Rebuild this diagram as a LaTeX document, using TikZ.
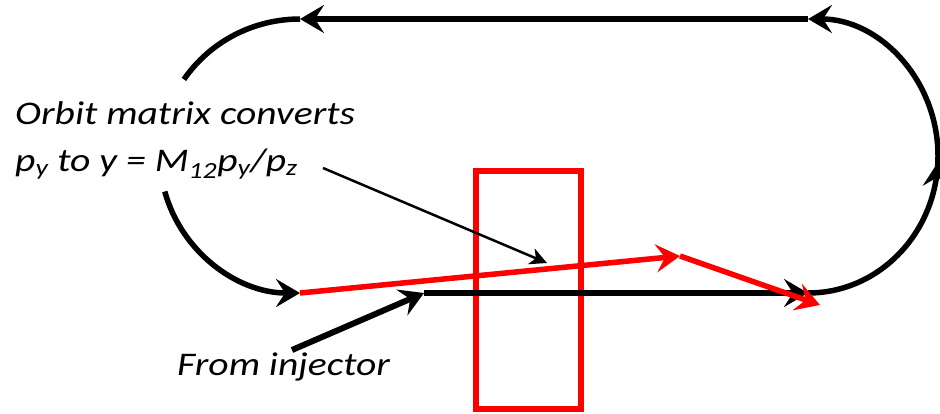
\documentclass[tikz,border=0pt]{standalone}
\usepackage{fontspec}
\setmainfont{Carlito}[FakeStretch=1.2]
\usetikzlibrary{arrows.meta,decorations.markings}
\begin{document}
\begin{tikzpicture}[x=1pt,y=1pt,
  loop/.style={line width=5.5pt, draw=black},
  redline/.style={line width=5.5pt, draw=red},
  bigtip/.style={-{Stealth[length=24pt,width=28pt,inset=9pt]}},
  smalltip/.style={-{Stealth[length=17pt,width=17pt,inset=5pt]}},
  midtip/.style={postaction={decorate},decoration={markings,
     mark=at position 0.485 with {\arrow{Stealth[length=24pt,width=28pt,inset=9pt]}}}},
  lbl/.style={font=\fontsize{33}{39}\selectfont\itshape, anchor=base west, inner sep=0pt}
]
\useasboundingbox (0,0) rectangle (940,413);
% key points
\coordinate (tl) at (300,394);
\coordinate (tr) at (808,394);
\coordinate (br) at (808,120);
\coordinate (bl) at (300,120);
\coordinate (lb) at (164.8,221.5);
\coordinate (bs) at (424,120);
\coordinate (inj) at (292,63);
\coordinate (rk) at (680,157);
\coordinate (re) at (820,108);
\coordinate (lp) at (323,245);
\coordinate (at) at (547,150);
% red box
\draw[line width=5.5pt, red] (476,4) rectangle (581,242);
% black orbit
\draw[loop,bigtip] (bs) -- (br);
\draw[loop,bigtip,midtip] (br) arc[start angle=-90,end angle=90,x radius=130pt,y radius=137pt];
\draw[loop,bigtip] (tr) -- (tl);
\draw[loop] (tl) arc[start angle=90,end angle=146,x radius=140pt,y radius=137pt];
\draw[loop,bigtip] (lb) arc[start angle=195,end angle=270,x radius=140pt,y radius=137pt];
% injector
\draw[line width=6pt,bigtip] (inj) -- (bs);
% red trajectory
\draw[redline,bigtip] (bl) -- (rk);
\draw[redline,bigtip] (rk) -- (re);
% labels
\node[lbl] (t1) at (15,288) {Orbit matrix converts};
\node[lbl] (t2) at (15,241) {p\textsubscript{y} to y = M\textsubscript{12}p\textsubscript{y}/p\textsubscript{z}};
\node[lbl] (t3) at (177,38) {From injector};
\draw[line width=2.5pt,smalltip] (lp) -- (at);
\end{tikzpicture}
\end{document}
